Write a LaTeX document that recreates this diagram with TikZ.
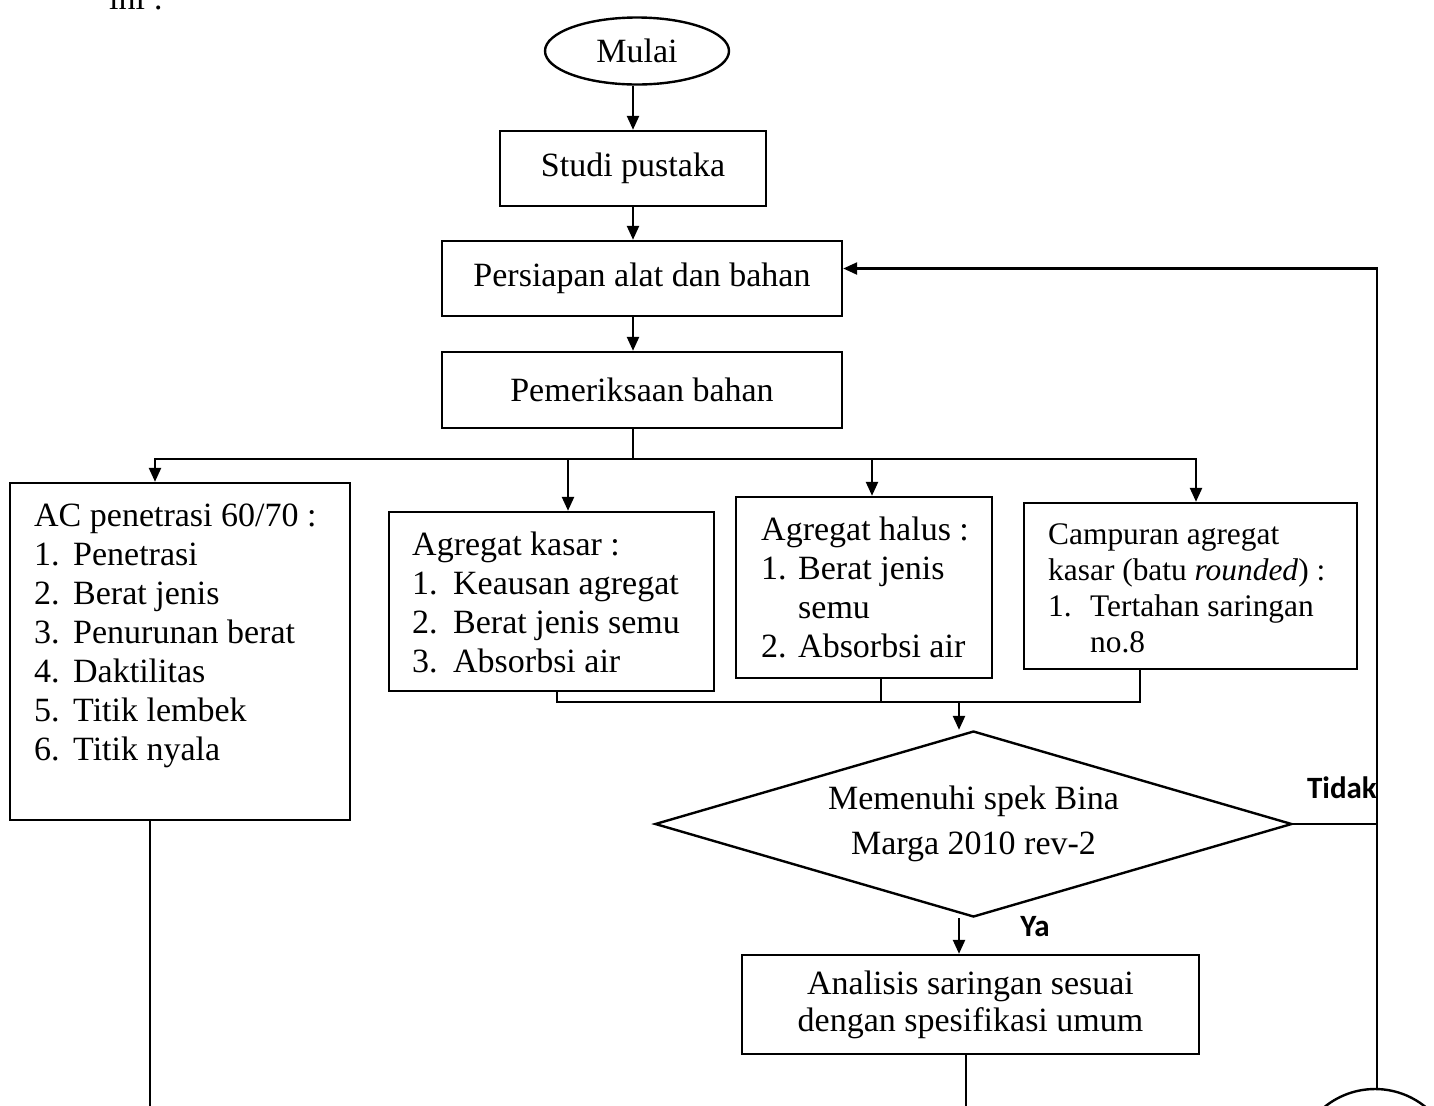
\documentclass[tikz,border=0pt]{standalone}
\usepackage{fontspec}
\setmainfont{Liberation Serif}
\newfontfamily\labfont{Carlito}
\usetikzlibrary{shapes.geometric,arrows.meta,calc}
\newcommand\itemnum[2][19.5pt]{\makebox[#1][l]{#2}}
\begin{document}
\begin{tikzpicture}[x=0.5pt,y=-0.5pt,
  line width=1.2pt,
  every node/.style={font=\fontsize{17}{19.5}\selectfont},
  box/.style={draw,rectangle,inner sep=0pt},
  txt/.style={align=left,inner sep=0pt,anchor=base west},
  arr/.style={-{Triangle[length=7pt,width=6pt]}},
  lbl/.style={font=\labfont\bfseries\fontsize{15.5}{17}\selectfont,inner sep=0pt}]
\useasboundingbox (0,0) rectangle (1434,1105);
\clip (0,0) rectangle (1434,1105);

% top clipped text
\node[anchor=base west,inner sep=0pt] (ini) at (108,9) {ini :};

% main nodes
\node[ellipse,draw,minimum width=92pt,minimum height=33.5pt,inner sep=0pt] (mulai) at (637,51) {Mulai};
\node[box,minimum width=133pt,minimum height=37.5pt] (studi) at (633,168.5) {Studi pustaka};
\node[box,minimum width=200pt,minimum height=37.5pt] (pers) at (642,278.5) {Persiapan alat dan bahan};
\node[box,minimum width=200pt,minimum height=38pt] (pem) at (642,390) {Pemeriksaan bahan};
\node[box,minimum width=170pt,minimum height=168.5pt] (ac) at (180,651.5) {};
\node[box,minimum width=162.5pt,minimum height=89.5pt] (kasar) at (551.5,601.5) {};
\node[box,minimum width=128pt,minimum height=90.5pt] (halus) at (864,587.5) {};
\node[box,minimum width=166.5pt,minimum height=83pt] (camp) at (1190.5,586) {};
\node[diamond,draw,aspect=3.4,minimum width=318.5pt,minimum height=93pt,inner sep=0pt,align=center,
      font=\fontsize{17}{22.5}\selectfont] (dec) at (973.5,824) {Memenuhi spek Bina\\Marga 2010 rev-2};
\node[box,minimum width=228.5pt,minimum height=49.5pt,align=center,
      font=\fontsize{17}{18.5}\selectfont] (anal) at (970.5,1004.5) {Analisis saringan sesuai\\dengan spesifikasi umum};
\node[circle,draw,minimum size=80pt,inner sep=0pt] (conn) at (1375,1169) {};

% box texts (base = baseline of last line)
\node[txt] (actxt) at (33,760) {AC penetrasi 60/70 :\\
  \itemnum{1.}Penetrasi\\
  \itemnum{2.}Berat jenis\\
  \itemnum{3.}Penurunan berat\\
  \itemnum{4.}Daktilitas\\
  \itemnum{5.}Titik lembek\\
  \itemnum{6.}Titik nyala};
\node[txt] (kasartxt) at (411,672) {Agregat kasar :\\
  \itemnum[20.5pt]{1.}Keausan agregat\\
  \itemnum[20.5pt]{2.}Berat jenis semu\\
  \itemnum[20.5pt]{3.}Absorbsi air};
\node[txt] (halustxt) at (760,657) {Agregat halus :\\
  \itemnum[18.5pt]{1.}Berat jenis\\
  \hspace*{18.5pt}semu\\
  \itemnum[18.5pt]{2.}Absorbsi air};
\node[txt,font=\fontsize{15.7}{18}\selectfont] (camptxt) at (1047,652) {Campuran agregat\\
  kasar (batu \textit{rounded}) :\\
  \itemnum[21pt]{1.}Tertahan saringan\\
  \hspace*{21pt}no.8};

% labels
\node[lbl,anchor=east] (tidak) at (1378,788) {Tidak};
\node[lbl] (ya) at (1035,927) {Ya};

% connectors
\draw[arr] (mulai.south -| studi.north) -- (studi.north);
\draw[arr] (studi.south) -- (studi.south |- pers.north);
\draw[arr] (studi.south |- pers.south) -- (studi.south |- pem.north);
\coordinate (split) at (633,459);
\draw (studi.south |- pem.south) -- (split);
\draw[arr] (split) -| ($(ac.north)+(-25,0)$);
\draw[arr] (split) -| ($(kasar.north)+(16.5,0)$);
\draw[arr] (split) -| ($(halus.north)+(8,0)$);
\draw[arr] (split) -| ($(camp.north)+(5.5,0)$);

\coordinate (merge) at (959,702);
\coordinate (kb) at ($(kasar.south)+(5.5,0)$);
\coordinate (hb) at ($(halus.south)+(17,0)$);
\coordinate (cb) at ($(camp.south)+(-50.5,0)$);
\draw (kb) |- (merge);
\draw (hb) |- (merge);
\draw (cb) |- (merge);
\draw[arr] (merge) -- (merge |- dec.north);
\draw[arr] (merge |- dec.south) -- (merge |- anal.north);

\coordinate (ret) at (1377,824);
\draw (dec.east) -- (ret);
\draw[arr] (ret) |- ($(pers.east)+(0,-10)$);
\draw (ret) -- (ret |- conn.north);

\coordinate (acb) at ($(ac.south)+(-30,0)$);
\draw (acb) -- ++(0,300);
\coordinate (anb) at ($(anal.south)+(-4.5,0)$);
\draw (anb) -- ++(0,100);
\end{tikzpicture}
\end{document}
